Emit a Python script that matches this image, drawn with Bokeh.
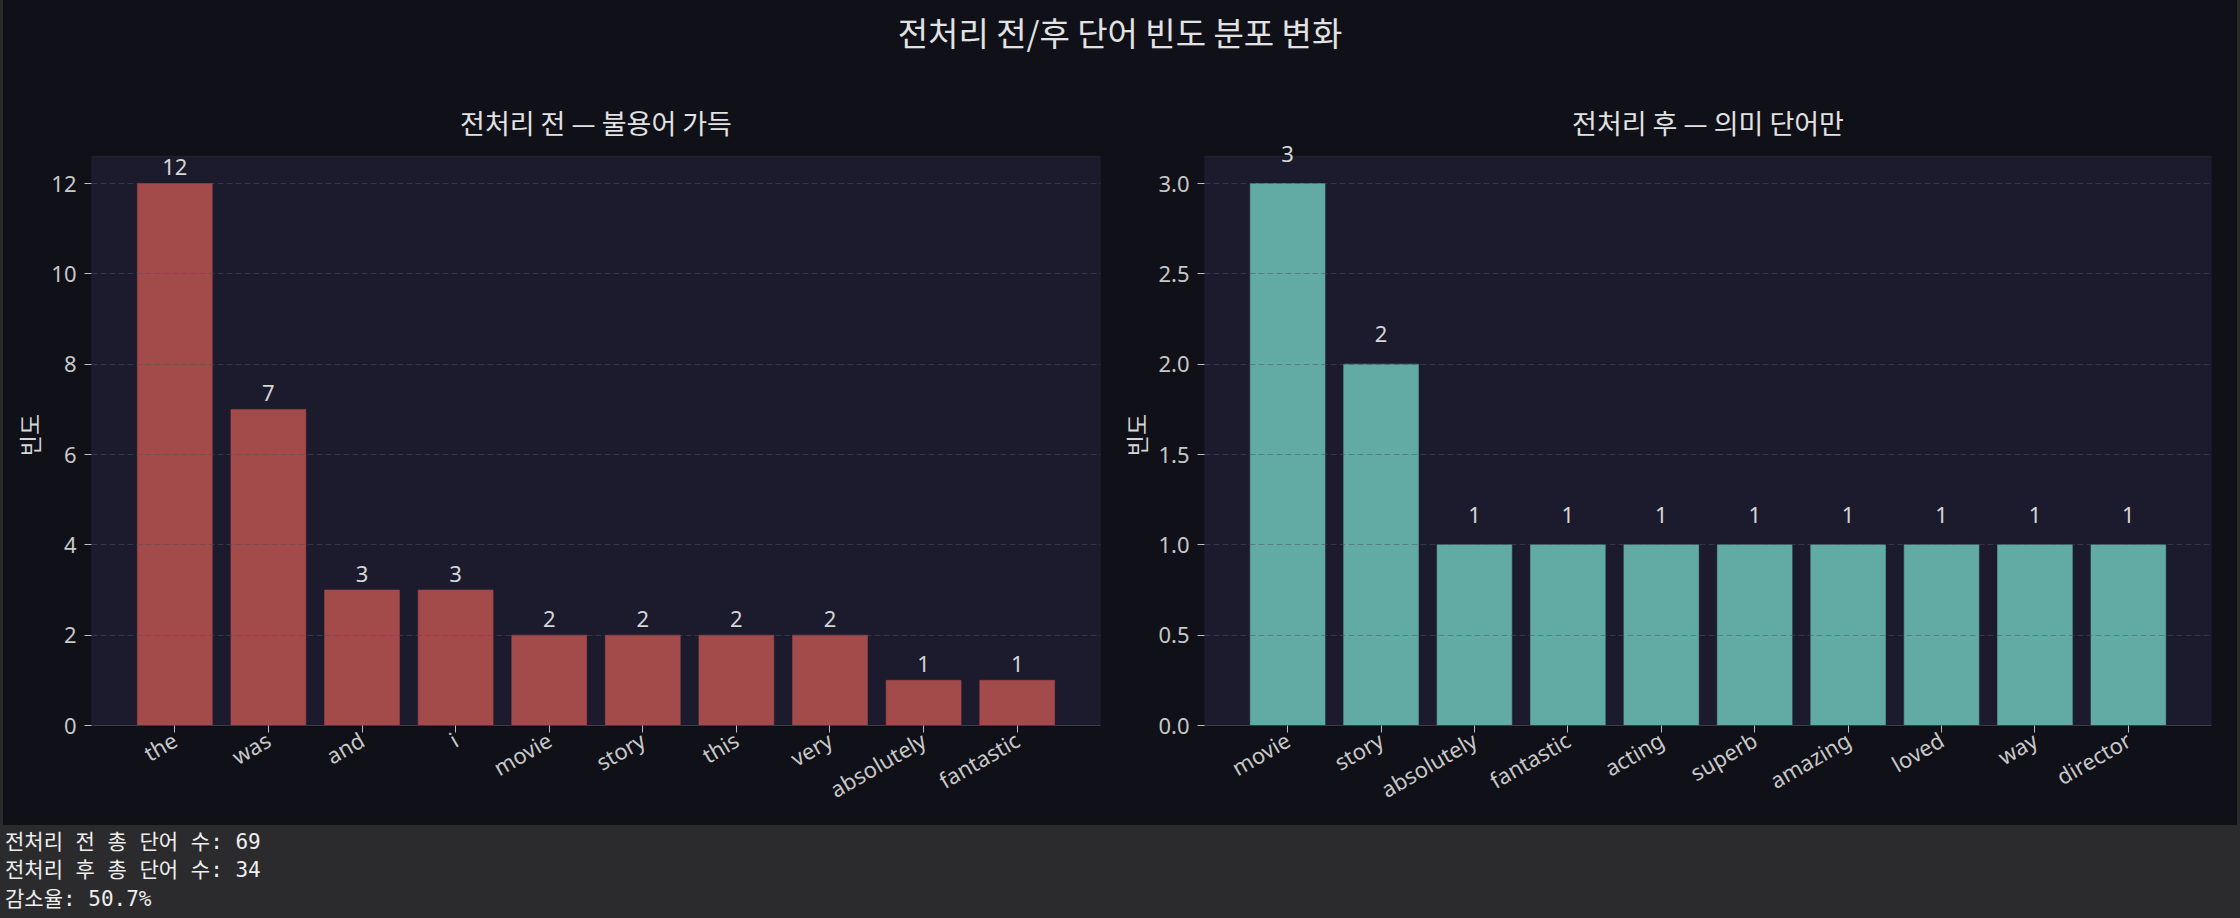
import math

from bokeh.plotting import figure
from bokeh.models import (
    Range1d,
    FixedTicker,
    SingleIntervalTicker,
    PrintfTickFormatter,
    Label,
    BoxAnnotation,
    Div,
)
from bokeh.layouts import column, row
from bokeh.embed import file_html
from bokeh.resources import INLINE

# word frequencies before / after preprocessing
before_words = ["the", "was", "and", "i", "movie", "story", "this", "very", "absolutely", "fantastic"]
before_counts = [12, 7, 3, 3, 2, 2, 2, 2, 1, 1]
after_words = ["movie", "story", "absolutely", "fantastic", "acting", "superb", "amazing", "loved", "way", "director"]
after_counts = [3, 2, 1, 1, 1, 1, 1, 1, 1, 1]

before_total = 69
after_total = 34

suptitle = "전처리 전/후 단어 빈도 분포 변화"
left_title = "전처리 전 — 불용어 가득"
right_title = "전처리 후 — 의미 단어만"
y_label = "빈도"

FIG_BG = "#101018"
PLOT_BG = "#1c1b2d"
PAGE_BG = "#2b2b2d"
TEXT = "#d6d6d6"
SPINE = "#3b3b46"
KFONT = "Noto Sans CJK KR"
LFONT = "Noto Sans, Noto Sans CJK KR"

FIG_H = 753
BORDER_TOP = 72      # frame top; leaves room for labels above the axes box
BORDER_BOTTOM = 100
HEADROOM = 12        # px between frame top and the visible axes box


def bar_panel(words, counts, color, title, step, fmt, width, min_left, min_right):
    n = len(words)
    pad = 0.05 * (n - 1 + 0.8)
    box_top = max(counts) * 1.05
    frame_h = FIG_H - BORDER_TOP - BORDER_BOTTOM
    y_end = box_top * frame_h / (frame_h - HEADROOM)
    p = figure(
        width=width,
        height=FIG_H,
        output_backend="svg",
        toolbar_location=None,
        x_range=Range1d(-0.4 - pad, n - 1 + 0.4 + pad),
        y_range=Range1d(0, y_end),
        min_border_left=min_left,
        min_border_right=min_right,
        min_border_top=BORDER_TOP,
        min_border_bottom=BORDER_BOTTOM,
        title=title,
    )
    p.background_fill_color = FIG_BG
    p.border_fill_color = FIG_BG
    p.outline_line_color = None

    # the visible axes box (matplotlib-style), below everything else
    p.add_layout(BoxAnnotation(bottom=0, top=box_top, fill_color=PLOT_BG, fill_alpha=1,
                               line_color=SPINE, line_width=1.5, level="underlay"))

    p.title.align = "center"
    p.title.text_font = KFONT
    p.title.text_font_size = "27px"
    p.title.text_font_style = "normal"
    p.title.text_color = "#e2e2e2"
    p.title.standoff = 6

    xs = list(range(n))
    p.vbar(x=xs, top=counts, width=0.8,
           fill_color=color, line_color=color, line_alpha=0.6)

    for x, c in zip(xs, counts):
        p.add_layout(Label(
            x=x, y=c + 0.1, text=str(c),
            text_align="center", text_baseline="bottom",
            text_font=LFONT, text_font_size="22px",
            text_color=TEXT, y_offset=4,
        ))

    p.xgrid.visible = False
    p.ygrid.grid_line_color = "#50505e"
    p.ygrid.grid_line_alpha = 0.5
    p.ygrid.grid_line_dash = "6 3"
    p.ygrid.level = "overlay"

    p.xaxis.ticker = FixedTicker(ticks=xs)
    p.xaxis.major_label_overrides = {i: w for i, w in enumerate(words)}
    p.xaxis.major_label_orientation = math.radians(30)
    p.yaxis.ticker = SingleIntervalTicker(interval=step)
    p.yaxis.formatter = PrintfTickFormatter(format=fmt)

    p.axis.major_tick_line_color = "#bdbdbd"
    p.axis.major_tick_out = 7
    p.axis.major_tick_in = 0
    p.axis.minor_tick_line_color = None
    p.axis.major_label_text_color = "#c8c8c8"
    p.axis.major_label_text_font = LFONT
    p.axis.major_label_text_font_size = "22px"
    p.yaxis.major_label_standoff = 8
    p.xaxis.major_label_standoff = 5
    p.xaxis.axis_line_color = SPINE
    p.yaxis.axis_line_color = None

    p.yaxis.axis_label = y_label
    p.yaxis.axis_label_text_font = KFONT
    p.yaxis.axis_label_text_font_size = "23px"
    p.yaxis.axis_label_text_font_style = "normal"
    p.yaxis.axis_label_text_color = TEXT
    p.yaxis.axis_label_standoff = 2
    return p


left = bar_panel(before_words, before_counts, "#a34a4a", left_title, 2, "%d", 1112, 88, 15)
right = bar_panel(after_words, after_counts, "#62aaa4", right_title, 0.5, "%.1f", 1112, 89, 16)

title_div = Div(
    text=suptitle,
    width=2224,
    height=70,
    styles={
        "background-color": FIG_BG,
        "color": "#e2e2e2",
        "font-family": KFONT,
        "font-size": "33px",
        "line-height": "70px",
        "text-align": "center",
        "overflow": "hidden",
    },
)

reduction = (1 - after_total / before_total) * 100
summary_lines = [
    f"전처리 전 총 단어 수: {before_total}",
    f"전처리 후 총 단어 수: {after_total}",
    f"감소율: {reduction:.1f}%",
]
summary = "".join(
    f'<div style="height:28.3px;line-height:16px">{s}</div>' for s in summary_lines
)
text_div = Div(
    text=summary,
    width=2240,
    height=95,
    styles={
        "background-color": PAGE_BG,
        "color": "#eeeeee",
        "font-family": "'DejaVu Sans Mono', 'Noto Sans CJK KR', monospace",
        "font-size": "21px",
        "white-space": "pre",
        "padding-top": "4px",
        "box-sizing": "border-box",
    },
)

panel = column(
    title_div,
    row(left, right),
    styles={"background-color": FIG_BG, "margin-left": "3px"},
)
page = column(
    panel,
    text_div,
    styles={"background-color": PAGE_BG, "margin": "-8px 0px -8px 0px"},
)

open("out.html", "w").write(file_html(page, INLINE))
